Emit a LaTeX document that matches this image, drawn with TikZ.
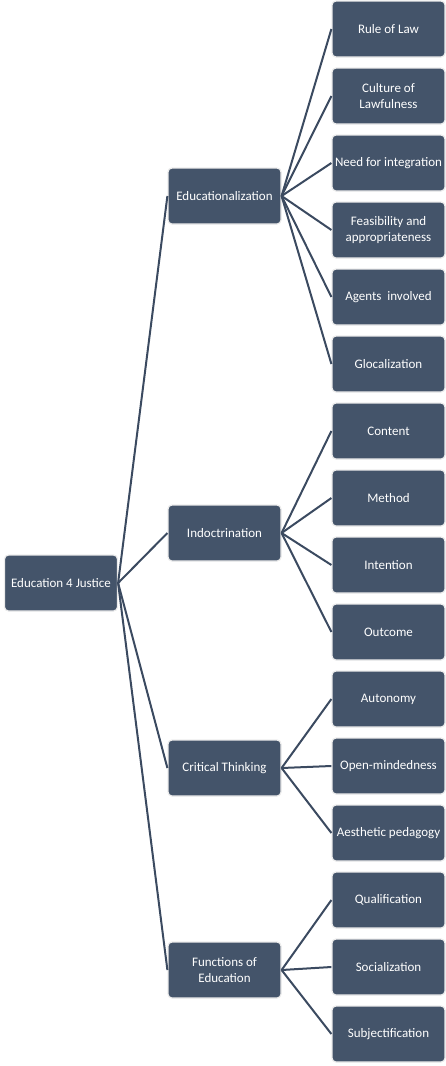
\documentclass[tikz,border=0pt]{standalone}
\usepackage{fontspec}
\setmainfont{Carlito}
\definecolor{boxblue}{HTML}{44546A}
\definecolor{linkblue}{HTML}{3B4A60}
\tikzset{
  box/.style={draw=gray!15, line width=1.2pt, fill=boxblue, rounded corners=4pt,
    text=white, minimum width=113pt, minimum height=56pt, align=center,
    inner sep=1pt, font=\fontsize{13}{15.5}\selectfont},
  link/.style={draw=linkblue, line width=2pt}
}
\begin{document}
\begin{tikzpicture}[x=1pt,y=-1pt]
    \useasboundingbox (0,0) rectangle (445,1066);
    % root and branches
    \node[box] (root) at (61,583) {Education 4 Justice};
    \node[box] (edu) at (224.5,196) {Educationalization};
    \node[box] (ind) at (224.5,533) {Indoctrination};
    \node[box] (crit) at (224.5,768) {Critical Thinking};
    \node[box] (func) at (224.5,970) {Functions of\\Education};
    \foreach \b in {edu,ind,crit,func}
        \draw[link] (root.east)--(\b.west);
    % leaves
    \foreach \i/\txt/\p in {1/Rule of Law/edu, 2/{Culture of\\Lawfulness}/edu,
        3/Need for integration/edu, 4/{Feasibility and\\appropriateness}/edu,
        5/Agents\ \ involved/edu, 6/Glocalization/edu,
        7/Content/ind, 8/Method/ind, 9/Intention/ind, 10/Outcome/ind,
        11/Autonomy/crit, 12/Open-mindedness/crit, 13/Aesthetic pedagogy/crit,
        14/Qualification/func, 15/Socialization/func, 16/Subjectification/func}
    {
        \node[box] (l\i) at (388.5,{29+(\i-1)*67}) {\txt};
        \draw[link] (\p.east)--(l\i.west);
    }
\end{tikzpicture}
\end{document}
